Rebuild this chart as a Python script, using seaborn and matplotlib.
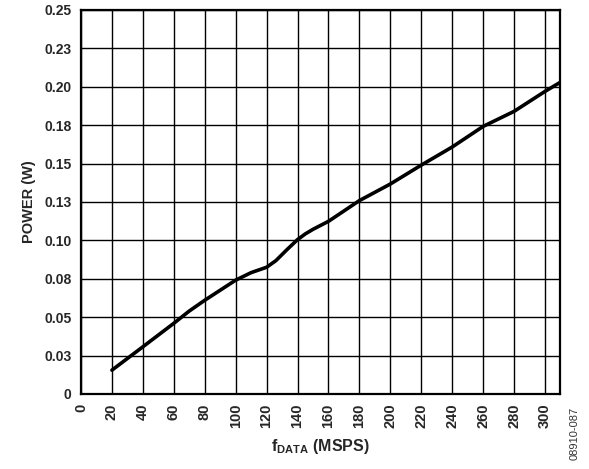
import numpy as np
import pandas as pd
import seaborn as sns
import matplotlib.pyplot as plt

# data
f_data = [20, 40, 60, 70, 80, 100, 110, 120, 126, 133, 140, 145, 150, 160, 180, 200, 220, 240, 260, 280, 300, 310]
power = [0.0155, 0.0307, 0.046, 0.054, 0.061, 0.0741, 0.079, 0.0825, 0.0868, 0.0938, 0.1005, 0.1042,
         0.1072, 0.1124, 0.1259, 0.1367, 0.149, 0.1608, 0.1742, 0.184, 0.197, 0.203]

x_ticks = list(range(0, 301, 20))
y_ticks = [0, 0.025, 0.05, 0.075, 0.10, 0.125, 0.15, 0.175, 0.20, 0.225, 0.25]
y_tick_labels = ["0", "0.03", "0.05", "0.08", "0.10", "0.13", "0.15", "0.18", "0.20", "0.23", "0.25"]

sns.set_style("white")
plt.rcParams['font.family'] = ['Liberation Sans', 'DejaVu Sans']
plt.rcParams['mathtext.fontset'] = 'custom'
plt.rcParams['mathtext.rm'] = 'Liberation Sans'
plt.rcParams['mathtext.bf'] = 'Liberation Sans:bold'

df = pd.DataFrame({"f": f_data, "p": power})

fig = plt.figure(figsize=(5.89, 4.69), dpi=100)
ax = fig.add_axes([0.1375, 0.16, 0.8141, 0.8187])

sns.lineplot(data=df, x="f", y="p", ax=ax, color="black", linewidth=2.6)

ax.set_xlim(0, 310)
ax.set_ylim(0, 0.25)

ax.set_xticks(x_ticks)
ax.set_xticklabels([str(v) for v in x_ticks], rotation=90, fontweight="bold", fontsize=10.5)
ax.set_yticks(y_ticks)
ax.set_yticklabels(y_tick_labels, fontweight="bold", fontsize=10)
ax.tick_params(axis="both", length=0, pad=7)
ax.grid(True, color="black", linewidth=1.0)
ax.set_axisbelow(True)

for s in ax.spines.values():
    s.set_color("black")
    s.set_linewidth(1.6)

ax.set_ylabel("POWER (W)", fontweight="bold", fontsize=10.5, labelpad=6)
ax.set_xlabel(r"$\mathbf{f_{DATA}}$ (MSPS)", fontweight="bold", fontsize=11.5, labelpad=6)

fig.text(0.976, 0.02, "08910-087", rotation=90, fontsize=8, ha="center", va="bottom", color="#333333")

fig.savefig("out.png", dpi=100)
